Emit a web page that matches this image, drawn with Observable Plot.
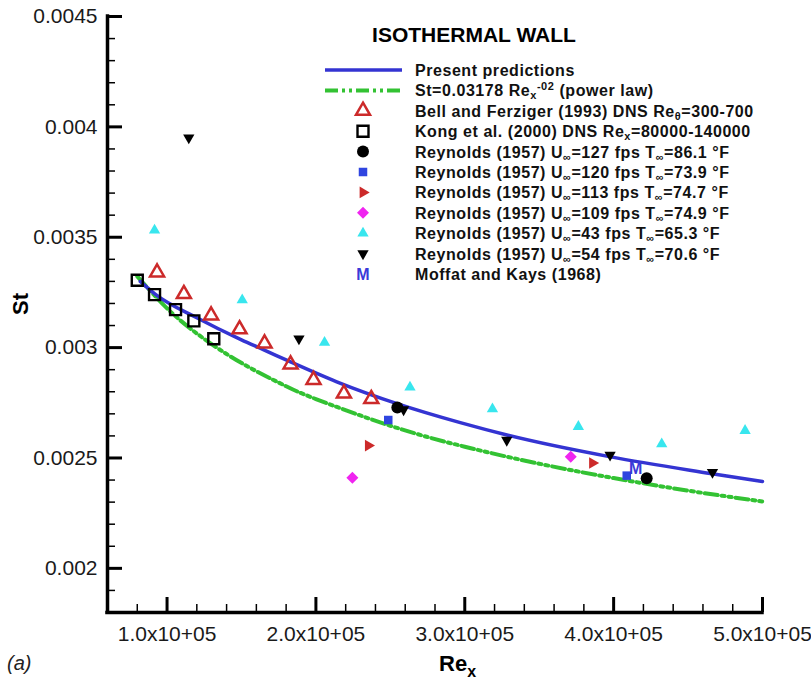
<!DOCTYPE html>
<html><head><meta charset="utf-8">
<script src="https://cdn.jsdelivr.net/npm/d3@7"></script>
<script src="https://cdn.jsdelivr.net/npm/@observablehq/plot@0.6"></script>
<style>
html,body{margin:0;padding:0;background:#fff;overflow:hidden;}
#chart svg{display:block;}
</style></head><body><div id="chart"></div>
<script>
// ---------- data ----------
const xDomain = [60000, 500000];
const yDomain = [0.0018, 0.0045];
const xTicksMajor = [100000, 200000, 300000, 400000, 500000];
const xTickLabels = ["1.0x10+05", "2.0x10+05", "3.0x10+05", "4.0x10+05", "5.0x10+05"];
const xTicksMinor = [80000, 120000, 140000, 160000, 180000, 220000, 240000, 260000, 280000,
  320000, 340000, 360000, 380000, 420000, 440000, 460000, 480000];
const yTicksMajor = [0.002, 0.0025, 0.003, 0.0035, 0.004, 0.0045];
const yTickLabels = ["0.002", "0.0025", "0.003", "0.0035", "0.004", "0.0045"];
const yTicksMinor = [0.0019, 0.0021, 0.0022, 0.0023, 0.0024, 0.0026, 0.0027, 0.0028, 0.0029,
  0.0031, 0.0032, 0.0033, 0.0034, 0.0036, 0.0037, 0.0038, 0.0039, 0.0041, 0.0042, 0.0043, 0.0044];

const presentRe = [82000, 92000, 120000, 150000, 165000, 183000, 214000, 255000, 297000, 329000, 398000, 465000, 500000];
const presentSt = [0.00330, 0.003242, 0.003135, 0.003035, 0.002990, 0.002935, 0.002845, 0.002745, 0.002660, 0.002603, 0.002505, 0.002430, 0.002393];

const powerRe = [80000, 100000, 120000, 140000, 160000, 180000, 200000, 250000, 300000, 350000, 400000, 450000, 500000];
const powerSt = [0.003323, 0.003178, 0.003064, 0.002971, 0.002893, 0.002825, 0.002767, 0.002646, 0.002551, 0.002474, 0.002409, 0.002352, 0.002303];

const bellRe = [93300, 111300, 129600, 148700, 165500, 183000, 198400, 218800, 237200];
const bellSt = [0.003341, 0.003243, 0.003146, 0.003083, 0.003019, 0.002924, 0.002854, 0.002792, 0.002767];

const kongRe = [80000, 91600, 105700, 118000, 131400];
const kongSt = [0.003305, 0.003240, 0.003172, 0.003121, 0.003040];

const r127Re = [254700, 422200];
const r127St = [0.002729, 0.002408];
const r120Re = [248600, 408800];
const r120St = [0.002672, 0.002420];
const r113Re = [235200, 385800];
const r113St = [0.002556, 0.002477];
const r109Re = [224500, 371200];
const r109St = [0.002410, 0.002506];
const r43Re = [91600, 150500, 205800, 263200, 318600, 376300, 432300, 488300];
const r43St = [0.003532, 0.003216, 0.003023, 0.002820, 0.002722, 0.002642, 0.002563, 0.002624];
const r54Re = [114600, 188600, 258900, 328200, 397600, 466400];
const r54St = [0.003951, 0.003040, 0.002719, 0.002581, 0.002514, 0.002435];
const moffatRe = [414800];
const moffatSt = [0.002443];

const chartTitle = "ISOTHERMAL WALL";
const xTitle = ["Re", "x"];
const yTitle = "St";
const panelTag = "(a)";

// ---------- styles ----------
const FONT = "'Liberation Sans', Arial, Helvetica, sans-serif";
const BLUE = "#3434d2", GREEN = "#33c233", RED = "#cc2a2a", CYAN = "#38e6ee",
      MAGENTA = "#f024f0", SQBLUE = "#2f45e0", MBLUE = "#3a3ad8";
const DASH = "13,4,3,4,3,4";

const W = 811, H = 683, mL = 107, mR = 49, mT = 16, mB = 71;
const pw = W - mL - mR, ph = H - mT - mB;
const rows = (xs, ys) => xs.map((x, i) => ({x, y: ys[i]}));

const sym = {
  bell:  {symbol: "triangle", r: 5.2, fill: "none", stroke: RED, strokeWidth: 2.5, rotate: 0},
  kong:  {symbol: "square", r: 6.2, fill: "none", stroke: "#000", strokeWidth: 2.4, rotate: 0},
  r127:  {symbol: "circle", r: 6, fill: "#000", rotate: 0},
  r120:  {symbol: "square", r: 4.8, fill: SQBLUE, rotate: 0},
  r113:  {symbol: "triangle", r: 4.3, fill: RED, rotate: 90},
  r109:  {symbol: "square", r: 4.8, fill: MAGENTA, rotate: 45},
  r43:   {symbol: "triangle", r: 4.2, fill: CYAN, rotate: 0},
  r54:   {symbol: "triangle", r: 4.2, fill: "#000", rotate: 180}
};

const dot = (re, st, s) => Plot.dot(rows(re, st), {x: "x", y: "y", ...s});

const plot = Plot.plot({
  width: W, height: H,
  marginLeft: mL, marginRight: mR, marginTop: mT, marginBottom: mB,
  x: {domain: xDomain, axis: null},
  y: {domain: yDomain, axis: null},
  style: {fontFamily: FONT, background: "#fff", overflow: "visible"},
  marks: [
    Plot.line(rows(powerRe, powerSt), {x: "x", y: "y", stroke: GREEN, strokeWidth: 4, strokeDasharray: DASH, curve: "natural"}),
    Plot.line(rows(presentRe, presentSt), {x: "x", y: "y", stroke: BLUE, strokeWidth: 3.5, curve: "monotone-x"}),
    dot(bellRe, bellSt, sym.bell),
    dot(kongRe, kongSt, sym.kong),
    dot(r43Re, r43St, sym.r43),
    dot(r54Re, r54St, sym.r54),
    dot(r109Re, r109St, sym.r109),
    dot(r113Re, r113St, sym.r113),
    dot(r120Re, r120St, sym.r120),
    dot(r127Re, r127St, sym.r127),
    Plot.text(rows(moffatRe, moffatSt), {x: "x", y: "y", text: () => "M", fill: MBLUE, fontWeight: "bold", fontSize: 16, dy: -2}),
    // ticks (pointing inward)
    Plot.ruleX(xTicksMinor, {x: d => d, insetTop: ph - 8, stroke: "#000", strokeWidth: 1.5}),
    Plot.ruleX(xTicksMajor, {x: d => d, insetTop: ph - 15, stroke: "#000", strokeWidth: 3}),
    Plot.ruleY(yTicksMinor, {y: d => d, insetRight: pw - 8, stroke: "#000", strokeWidth: 1.5}),
    Plot.ruleY(yTicksMajor, {y: d => d, insetRight: pw - 15, stroke: "#000", strokeWidth: 3}),
    // axis lines
    Plot.ruleX([xDomain[0]], {stroke: "#000", strokeWidth: 3.5, strokeLinecap: "square"}),
    Plot.ruleY([yDomain[0]], {stroke: "#000", strokeWidth: 3.5, strokeLinecap: "square"}),
    // tick labels
    Plot.text(rows(yTicksMajor, yTickLabels), {y: "x", text: "y", frameAnchor: "left", dx: -10, textAnchor: "end", fontSize: 21, fill: "#1a1a1a"}),
    Plot.text(rows(xTicksMajor, xTickLabels), {x: "x", text: "y", frameAnchor: "bottom", dy: 28, lineAnchor: "bottom", fontSize: 21, fill: "#1a1a1a", ariaLabel: "xticklabels"})
  ]
});

document.getElementById("chart").appendChild(plot);
const svg = d3.select(plot);

// superscript exponents in x tick labels
svg.selectAll("g[aria-label='xticklabels'] text").each(function () {
  const s = this.textContent;
  const k = s.indexOf("x10") + 3;
  this.textContent = "";
  const t = d3.select(this);
  t.append("tspan").text(s.slice(0, k));
  t.append("tspan").attr("dy", -9).attr("font-size", 14).text(s.slice(k));
});

// rich text helper
function rich(textSel, segs, base, subShift, supShift, small) {
  let cur = 0;
  for (const seg of segs) {
    const o = typeof seg === "string" ? {t: seg} : seg;
    let shift = 0, size = base;
    if (o.s === "sub") { shift = subShift; size = small; }
    if (o.s === "sup") { shift = -supShift; size = small; }
    const ts = textSel.append("tspan").attr("font-size", size).text(o.t);
    if (shift - cur !== 0) ts.attr("dy", shift - cur);
    if (o.dx) ts.attr("dx", o.dx);
    cur = shift;
  }
}

// titles
const g = svg.append("g").attr("font-family", FONT).attr("fill", "#000").attr("text-anchor", "start");
g.append("text").attr("x", 474).attr("y", 42).attr("text-anchor", "middle")
  .attr("font-weight", "bold").attr("font-size", 21).text(chartTitle);
rich(g.append("text").attr("x", 439).attr("y", 671).attr("font-weight", "bold"),
  [xTitle[0], {t: xTitle[1], s: "sub"}], 22, 6, 9, 16);
g.append("text").attr("transform", "translate(28,304) rotate(-90)").attr("text-anchor", "middle")
  .attr("font-weight", "bold").attr("font-size", 22).text(yTitle);
g.append("text").attr("x", 7).attr("y", 670).attr("font-style", "italic").attr("font-size", 20)
  .attr("fill", "#222").text(panelTag);

// legend
const legend = [
  {kind: "line", stroke: BLUE, label: ["Present predictions"]},
  {kind: "dash", stroke: GREEN, label: ["St=0.03178 Re", {t: "x", s: "sub"}, {t: "-02", s: "sup"}, " (power law)"]},
  {kind: "sym", s: sym.bell, label: ["Bell and Ferziger (1993) DNS Re", {t: "θ", s: "sub"}, "=300-700"]},
  {kind: "sym", s: sym.kong, label: ["Kong et al. (2000) DNS Re", {t: "x", s: "sub"}, "=80000-140000"]},
  {kind: "sym", s: sym.r127, label: ["Reynolds (1957) U", {t: "∞", s: "sub"}, "=127 fps T", {t: "∞", s: "sub"}, "=86.1 °F"]},
  {kind: "sym", s: sym.r120, label: ["Reynolds (1957) U", {t: "∞", s: "sub"}, "=120 fps T", {t: "∞", s: "sub"}, "=73.9 °F"]},
  {kind: "sym", s: sym.r113, label: ["Reynolds (1957) U", {t: "∞", s: "sub"}, "=113 fps T", {t: "∞", s: "sub"}, "=74.7 °F"]},
  {kind: "sym", s: sym.r109, label: ["Reynolds (1957) U", {t: "∞", s: "sub"}, "=109 fps T", {t: "∞", s: "sub"}, "=74.9 °F"]},
  {kind: "sym", s: sym.r43, label: ["Reynolds (1957) U", {t: "∞", s: "sub"}, "=43 fps T", {t: "∞", s: "sub"}, "=65.3 °F"]},
  {kind: "sym", s: sym.r54, label: ["Reynolds (1957) U", {t: "∞", s: "sub"}, "=54 fps T", {t: "∞", s: "sub"}, "=70.6 °F"]},
  {kind: "M", label: ["Moffat and Kays (1968)"]}
];
const symMap = {triangle: d3.symbolTriangle, square: d3.symbolSquare, circle: d3.symbolCircle};
const lg = svg.append("g").attr("font-family", FONT).attr("text-anchor", "start");
legend.forEach((it, i) => {
  const cy = 70 + i * 20.4;
  if (it.kind === "line" || it.kind === "dash") {
    lg.append("line").attr("x1", 325).attr("x2", 402).attr("y1", cy).attr("y2", cy)
      .attr("stroke", it.stroke).attr("stroke-width", it.kind === "dash" ? 4 : 3.5)
      .attr("stroke-dasharray", it.kind === "dash" ? DASH : null);
  } else if (it.kind === "sym") {
    const s = it.s;
    const path = d3.symbol(symMap[s.symbol], Math.PI * s.r * s.r)();
    lg.append("path").attr("d", path)
      .attr("transform", `translate(363,${cy}) rotate(${s.rotate || 0})`)
      .attr("fill", s.fill).attr("stroke", s.stroke || "none").attr("stroke-width", s.strokeWidth || 0);
  } else {
    lg.append("text").attr("x", 363).attr("y", cy + 6).attr("text-anchor", "middle")
      .attr("font-weight", "bold").attr("font-size", 16).attr("fill", MBLUE).text("M");
  }
  rich(lg.append("text").attr("x", 415).attr("y", cy + 6).attr("text-anchor", "start")
    .attr("letter-spacing", 0.55).attr("font-weight", "bold").attr("fill", "#111"), it.label, 16, 3, 6, 11);
});
</script></body></html>
